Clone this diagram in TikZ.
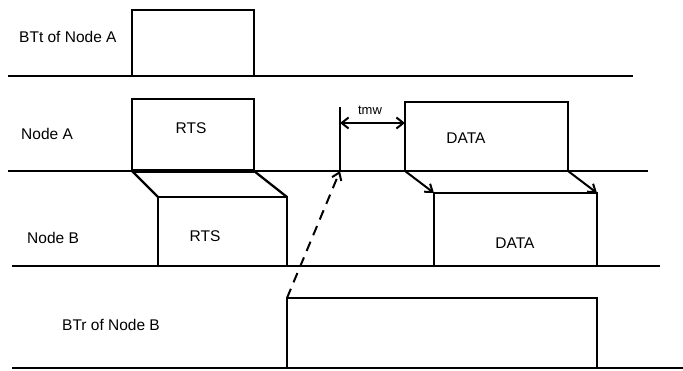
\documentclass[tikz,border=0pt]{standalone}
\usepackage{fontspec}
\setmainfont{Liberation Sans}
\usetikzlibrary{arrows.meta}
\tikzset{
  sig/.style={line width=2.3pt, line join=miter},
  lbl/.style={font=\fontsize{15.5}{17}\selectfont, inner sep=0pt},
  arr/.style={line width=2pt, -{Straight Barb[length=7pt,width=10pt]}},
}
\begin{document}
\begin{tikzpicture}[x=1pt,y=-1pt]
\useasboundingbox (0,0) rectangle (683,371);
\fill[white] (0,0) rectangle (683,371);
% baselines
\draw[sig] (8,76) -- (633,76);
\draw[sig] (8,171) -- (648,171);
\draw[sig] (12,266) -- (660,266);
\draw[sig] (12,368) -- (683,368);
% key points
\coordinate (rtsAl) at (132,171);
\coordinate (rtsAr) at (254,171);
\coordinate (rtsBl) at (158,197);
\coordinate (rtsBr) at (287,197);
\coordinate (datAl) at (405,171);
\coordinate (datAr) at (568,171);
\coordinate (datBl) at (434,193);
\coordinate (datBr) at (597,193);
\coordinate (tmwB) at (340,171);
\coordinate (btrL) at (287,298);
% BTt of Node A
\draw[sig] (132,76) -- (132,10) -- (254,10) -- (254,76);
% Node A
\draw[sig] (rtsAl) -- (132,99) -- (254,99) -- (rtsAr);
\draw[line width=3.5pt] (rtsAl) -- (rtsAr);
\draw[sig] (datAl) -- (405,102) -- (568,102) -- (datAr);
\draw[sig] (340,107) -- (tmwB);
\coordinate (tmwL) at (340,123);
\coordinate (tmwR) at (405,123);
\draw[line width=2pt, {Straight Barb[length=7pt,width=11pt]}-{Straight Barb[length=7pt,width=11pt]}] (tmwL) -- (tmwR);
% Node B
\draw[sig] (158,266) -- (rtsBl) -- (rtsBr) -- (287,266);
\draw[sig] (rtsAl) -- (rtsBl);
\draw[sig] (rtsAr) -- (rtsBr);
\draw[sig] (434,266) -- (datBl) -- (datBr) -- (597,266);
\draw[arr] (datAl) -- (datBl);
\draw[arr] (datAr) -- (datBr);
% BTr of Node B
\draw[sig] (287,368) -- (btrL) -- (597,298) -- (597,368);
\draw[arr, dash pattern=on 10pt off 7pt] (btrL) -- (tmwB);
% labels
\node[lbl, anchor=west] (lBTt) at (19,37) {BTt of Node A};
\node[lbl, anchor=west] (lNA) at (21,134) {Node A};
\node[lbl, anchor=west] (lNB) at (27,238) {Node B};
\node[lbl, anchor=west] (lBTr) at (62,325) {BTr of Node B};
\node[lbl] (rtsA) at (191,128) {RTS};
\node[lbl] (rtsB) at (205,236) {RTS};
\node[lbl] (datA) at (466,138) {DATA};
\node[lbl] (datB) at (515,243) {DATA};
\node[lbl, font=\fontsize{13}{15}\selectfont] (tmw) at (370,110) {tmw};
\end{tikzpicture}
\end{document}
